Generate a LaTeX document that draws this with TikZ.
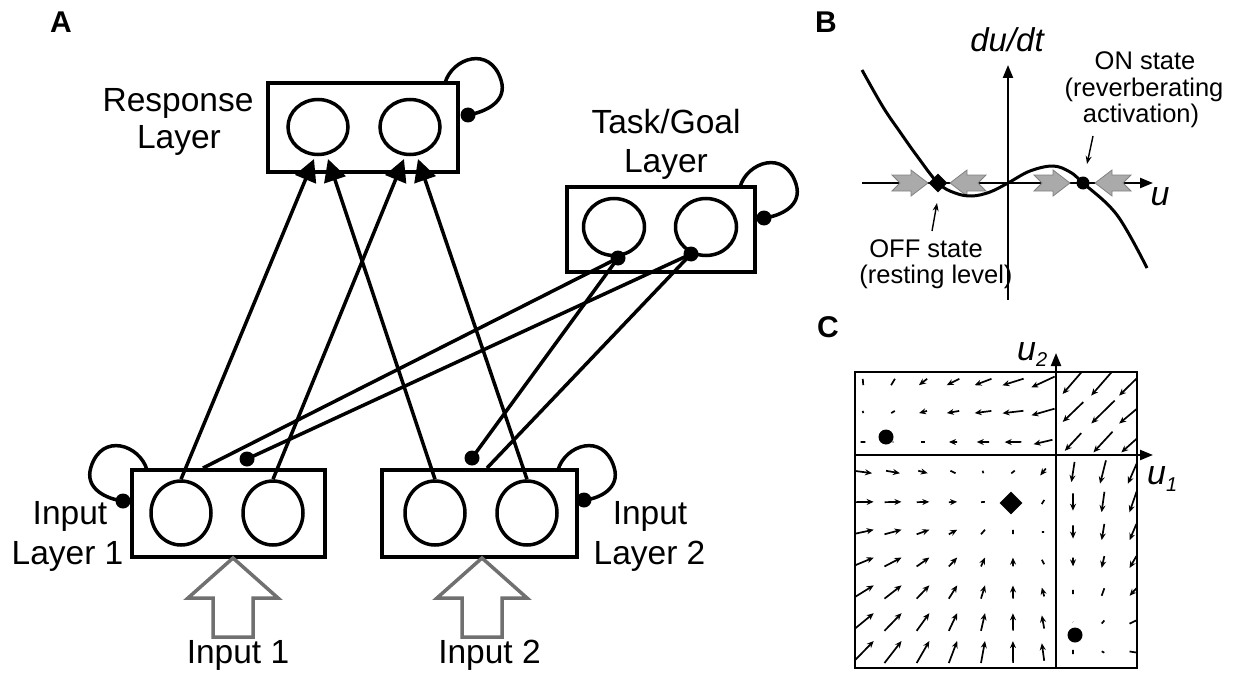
\documentclass[tikz,border=0pt]{standalone}
\usepackage{fontspec}
\setmainfont{Liberation Sans}
\usetikzlibrary{arrows.meta,shapes.geometric}
\definecolor{ingray}{RGB}{112,112,112}
\definecolor{agray}{RGB}{170,170,170}
\definecolor{agrayd}{RGB}{130,130,130}
\begin{document}
\begin{tikzpicture}[x=1pt,y=-1pt,
 layerbox/.style={draw,rectangle,line width=4pt,inner sep=0},
 unitc/.style={draw,ellipse,line width=3.5pt,inner sep=0},
 conn/.style={line width=3.5pt},
 exc/.style={conn,-{Triangle[length=22pt,width=22pt]}},
 lbl/.style={anchor=base,inner sep=0,font=\fontsize{33.5}{38}\selectfont},
 lblb/.style={anchor=base,inner sep=0,font=\fontsize{25.5}{28}\selectfont},
 panel/.style={anchor=base,inner sep=0,font=\bfseries\fontsize{30}{32}\selectfont},
 inarrow/.style={draw=ingray,line width=3.5pt,fill=white,line join=miter},
 garrow/.style={fill=agray,draw=agrayd,line width=0.8pt},
 axisl/.style={line width=2.2pt,-{Triangle[length=13pt,width=10pt]}},
 ptr/.style={line width=1.4pt,-{Stealth[length=8pt,width=6pt]}},
 qv0/.style={line width=1.7pt},
 qv1/.style={line width=1.7pt,-{Stealth[length=7pt,width=6pt]}},
 mdot/.style={circle,fill,inner sep=0},
 mdia/.style={diamond,fill,inner sep=0},
]
\useasboundingbox (0,0) rectangle (1241,674);

% ---------------- Panel A ----------------
\node[panel] (labA) at (61,33) {A};

% layer boxes
\node[layerbox,minimum width=190pt,minimum height=89pt] (resp) at (363,127.5) {};
\node[layerbox,minimum width=188pt,minimum height=85pt] (task) at (661,229.5) {};
\node[layerbox,minimum width=193pt,minimum height=87pt] (inp1) at (228.5,513.5) {};
\node[layerbox,minimum width=195pt,minimum height=87pt] (inp2) at (479.5,513.5) {};

% units
\node[unitc,minimum width=60pt,minimum height=55pt] (R1) at (318,127) {};
\node[unitc,minimum width=60pt,minimum height=55pt] (R2) at (410,127) {};
\node[unitc,minimum width=61pt,minimum height=57pt] (T1) at (614,227) {};
\node[unitc,minimum width=61pt,minimum height=57pt] (T2) at (706,227) {};
\node[unitc,minimum width=60pt,minimum height=64pt] (I1a) at (181,513) {};
\node[unitc,minimum width=60pt,minimum height=64pt] (I1b) at (273,513) {};
\node[unitc,minimum width=60pt,minimum height=64pt] (I2a) at (435,513) {};
\node[unitc,minimum width=60pt,minimum height=64pt] (I2b) at (527,513) {};

% labels
\node[lbl] (tResp) at (178,112) {Response};
\node[lbl] (tResp2) at (179,148) {Layer};
\node[lbl] (tTask) at (666,133) {Task/Goal};
\node[lbl] (tTask2) at (666,172) {Layer};
\node[lbl] (tIn1) at (70,524) {Input};
\node[lbl] (tIn1b) at (67.5,564) {Layer 1};
\node[lbl] (tIn2) at (650,524) {Input};
\node[lbl] (tIn2b) at (649.5,564) {Layer 2};
\node[lbl] (tX1) at (238,663) {Input 1};
\node[lbl] (tX2) at (489.5,663) {Input 2};

% excitatory projections to response layer
\coordinate (ra1) at (314,159);
\coordinate (ra2) at (328,159);
\coordinate (rb1) at (404,159);
\coordinate (rb2) at (418,159);
\draw[exc] (I1a.north) -- (ra1);
\draw[exc] (I2a.north) -- (ra2);
\draw[exc] (I1b.north) -- (rb1);
\draw[exc] (I2b.north) -- (rb2);

% task projections
\coordinate (td1) at (618,258);
\coordinate (td2) at (691,254);
\coordinate (ie1) at (203,468);
\coordinate (id1) at (247,459);
\coordinate (id2) at (472,458);
\coordinate (ie2) at (487,468);
\draw[conn] (td1) -- (ie1);
\draw[conn] (td2) -- (id1);
\draw[conn] (td1) -- (id2);
\draw[conn] (td2) -- (ie2);
\fill (td1) circle[radius=7.5pt];
\fill (td2) circle[radius=7.5pt];
\fill (id1) circle[radius=7.5pt];
\fill (id2) circle[radius=7.5pt];

% self loops
\coordinate (lr0) at (445,83);  \coordinate (lr1) at (468,115);
\coordinate (lt0) at (740,187); \coordinate (lt1) at (764,218);
\coordinate (l10) at (147,470); \coordinate (l11) at (123,501);
\coordinate (l20) at (558,470); \coordinate (l21) at (584,500);
\draw[conn] (lr0) .. controls (452,58) and (490,45) .. (501,80) .. controls (508,102) and (485,112) .. (lr1);
\draw[conn] (lt0) .. controls (747,162) and (785,149) .. (796,184) .. controls (803,206) and (780,216) .. (lt1);
\draw[conn] (l10) .. controls (140,445) and (102,432) .. (91,467) .. controls (84,489) and (107,499) .. (l11);
\draw[conn] (l20) .. controls (565,445) and (603,432) .. (614,467) .. controls (621,489) and (598,499) .. (l21);
\fill (lr1) circle[radius=7.5pt];
\fill (lt1) circle[radius=7.5pt];
\fill (l11) circle[radius=7.5pt];
\fill (l21) circle[radius=7.5pt];

% input arrows
\draw[inarrow] (233,558) -- (278,598) -- (253,598) -- (253,637) -- (213,637) -- (213,598) -- (188,598) -- cycle;
\draw[inarrow] (482,558) -- (527,598) -- (502,598) -- (502,637) -- (462,637) -- (462,598) -- (437,598) -- cycle;

% ---------------- Panel B ----------------
\node[panel] (labB) at (826,33) {B};
\draw[axisl] (1008,300) -- (1008,65);
\draw[axisl] (862,183) -- (1153,183);
\node[anchor=base,inner sep=0,font=\itshape\fontsize{33}{33}\selectfont] (tdudt) at (1007,52) {du/dt};
\node[anchor=base,inner sep=0,font=\itshape\fontsize{34}{34}\selectfont] (tu) at (1160,205) {u};

\draw[garrow] (928,183) -- ++(-17,-13) -- ++(0,5) -- ++(-19,0) -- ++(8,8) -- ++(-8,8) -- ++(19,0) -- ++(0,5) -- cycle;
\draw[garrow] (950,183) -- ++(17,-13) -- ++(0,5) -- ++(19,0) -- ++(-8,8) -- ++(8,8) -- ++(-19,0) -- ++(0,5) -- cycle;
\draw[garrow] (1070,183) -- ++(-17,-13) -- ++(0,5) -- ++(-19,0) -- ++(8,8) -- ++(-8,8) -- ++(19,0) -- ++(0,5) -- cycle;
\draw[garrow] (1095,183) -- ++(17,-13) -- ++(0,5) -- ++(19,0) -- ++(-8,8) -- ++(8,8) -- ++(-19,0) -- ++(0,5) -- cycle;

\draw[line width=3pt] plot[smooth,tension=0.6] coordinates {(862,70) (883,107) (900,132) (917,156) (938,183) (955,193) (972,196) (990,192) (1008,183) (1030,171) (1053,166) (1070,172) (1083,183) (1117,215) (1147,268)};

\node[mdia,minimum size=19pt] (off) at (938,183) {};
\node[mdot,minimum size=13pt] (on) at (1083,183) {};

\node[lblb] (tOn1) at (1145,70) {ON state};
\node[lblb] (tOn2) at (1144,97) {(reverberating};
\node[lblb] (tOn3) at (1141,123) {activation)};
\node[lblb] (tOff1) at (926,257) {OFF state};
\node[lblb] (tOff2) at (936,283) {(resting level)};
\coordinate (onp0) at (1093,136); \coordinate (onp1) at (1087,164);
\coordinate (ofp0) at (932,231); \coordinate (ofp1) at (937,203);
\draw[ptr] (onp0) -- (onp1);
\draw[ptr] (ofp0) -- (ofp1);

% ---------------- Panel C ----------------
\node[panel] (labC) at (828,337) {C};
\begin{scope}
\clip (855,372) rectangle (1137,668);
\foreach \i in {0,...,9}{
 \foreach \j in {0,...,9}{
  \pgfmathsetmacro{\px}{863+30*\i}
  \pgfmathsetmacro{\py}{652-30*\j}
  \pgfmathsetmacro{\ua}{\px-1056}
  \pgfmathsetmacro{\ub}{455-\py}
  \pgfmathsetmacro{\sa}{1/(1+exp(-max(min(0.1*(\ua),8),-8)))}
  \pgfmathsetmacro{\sb}{1/(1+exp(-max(min(0.1*(\ub),8),-8)))}
  \pgfmathsetmacro{\da}{-(\ua)-45.3+74.6*\sa-144.5*\sb}
  \pgfmathsetmacro{\db}{-(\ub)-45.3+74.6*\sb-144.5*\sa}
  \pgfmathsetmacro{\vx}{0.145*(\da)}
  \pgfmathsetmacro{\vy}{-0.145*(\db)}
  \pgfmathsetmacro{\xa}{\px-0.5*(\vx)}
  \pgfmathsetmacro{\ya}{\py-0.5*(\vy)}
  \pgfmathsetmacro{\xb}{\px+0.5*(\vx)}
  \pgfmathsetmacro{\yb}{\py+0.5*(\vy)}
  \pgfmathsetmacro{\len}{veclen(\vx,\vy)}
  \pgfmathtruncatemacro{\hd}{\len>8}
  \draw[qv\hd] (\xa,\ya) -- (\xb,\yb);
 }
}
\end{scope}
\draw[line width=1.5pt] (855,372) rectangle (1137,668);
\draw[axisl] (855,455) -- (1153,455);
\draw[axisl] (1056,668) -- (1056,353);
\node[mdot,minimum size=15pt] (c1) at (886,437) {};
\node[mdia,minimum size=23pt] (c2) at (1011,503) {};
\node[mdot,minimum size=15pt] (c3) at (1075,635) {};
\node[anchor=base west,inner sep=0,font=\itshape\fontsize{34}{34}\selectfont] (tu2) at (1017,360) {u\raisebox{-6pt}{\fontsize{20}{20}\selectfont 2}};
\node[anchor=base west,inner sep=0,font=\itshape\fontsize{34}{34}\selectfont] (tu1) at (1147,484) {u\raisebox{-7pt}{\fontsize{20}{20}\selectfont 1}};
\end{tikzpicture}
\end{document}
